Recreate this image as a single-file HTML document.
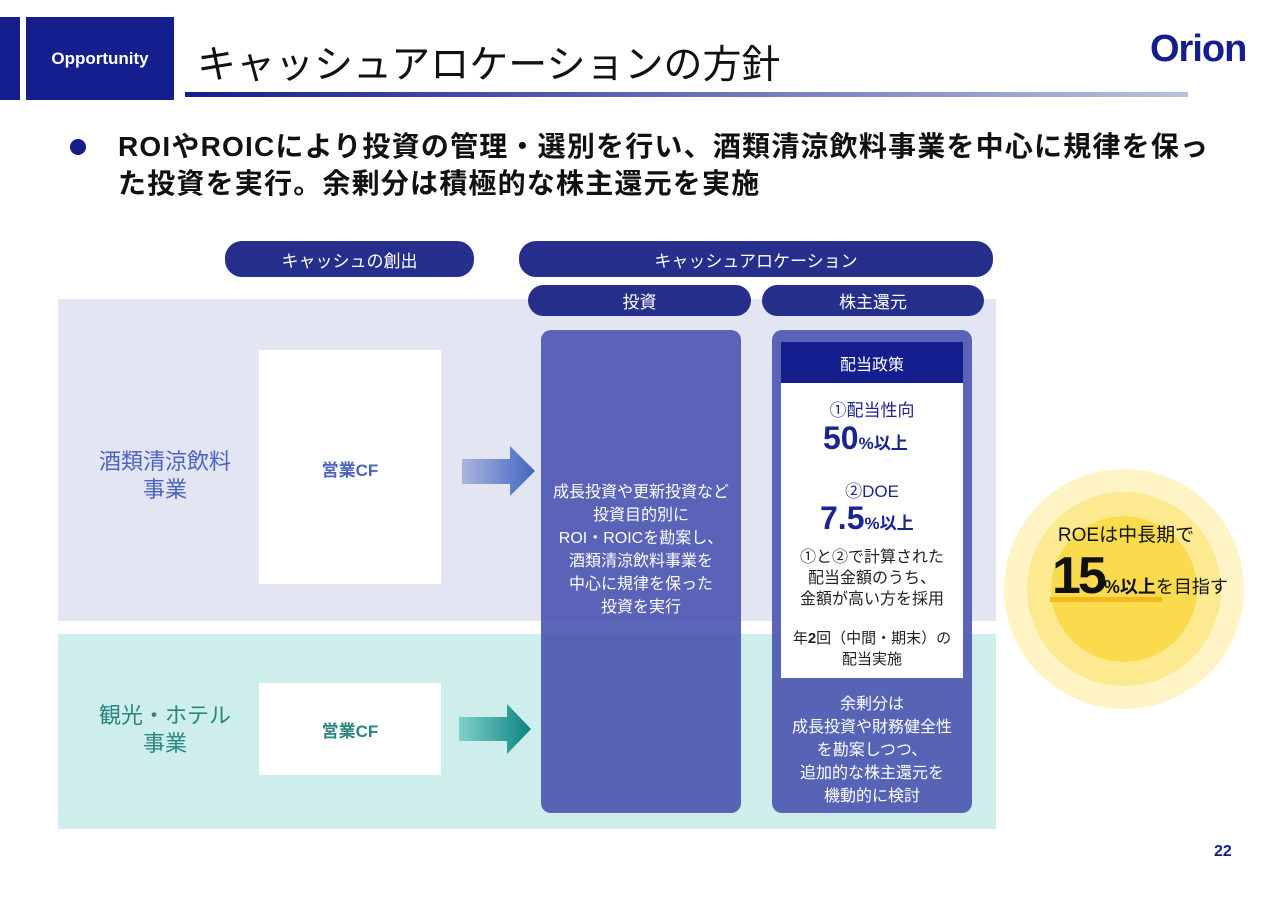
<!DOCTYPE html>
<html><head><meta charset="utf-8"><style>
*{margin:0;padding:0;box-sizing:border-box}
body{width:1280px;height:905px;background:#fff;position:relative;overflow:hidden;font-family:"Liberation Sans","Noto Sans CJK JP",sans-serif}
.a{position:absolute}
.c{display:flex;align-items:center;justify-content:center;text-align:center}
.pill{background:#262f8c;color:#fff;border-radius:17px;font-size:17px;z-index:5}
</style></head><body>
<div class="a" style="left:0;top:17px;width:20px;height:83px;background:#141e8c"></div>
<div class="a c" style="left:26px;top:17px;width:148px;height:83px;background:#141e8c;color:#fff;font-weight:bold;font-size:17px">Opportunity</div>
<div class="a" style="left:197px;top:34px;font-size:39px;color:#111;white-space:nowrap">キャッシュアロケーションの方針</div>
<div class="a" style="left:185px;top:92px;width:1003px;height:5px;background:linear-gradient(90deg,#141e8c,#b9c0df)"></div>
<div class="a" style="left:1150px;top:28px;font-size:38px;font-weight:bold;color:#141e8c;letter-spacing:-1px">Orion</div>
<div class="a" style="left:70px;top:139px;width:16px;height:16px;border-radius:50%;background:#141e8c"></div>
<div class="a" style="left:118px;top:128px;font-size:28px;font-weight:bold;line-height:37px;color:#111;white-space:nowrap;letter-spacing:1.2px">ROIやROICにより投資の管理・選別を行い、酒類清涼飲料事業を中心に規律を保っ<br>た投資を実行。余剰分は積極的な株主還元を実施</div>

<div class="a" style="left:58px;top:299px;width:938px;height:322px;background:#e3e5f2"></div>
<div class="a" style="left:58px;top:634px;width:938px;height:195px;background:#ceeeeb"></div>

<div class="a c pill" style="left:225px;top:241px;width:249px;height:36px">キャッシュの創出</div>
<div class="a c pill" style="left:519px;top:241px;width:474px;height:36px">キャッシュアロケーション</div>
<div class="a c pill" style="left:528px;top:285px;width:223px;height:31px">投資</div>
<div class="a c pill" style="left:762px;top:285px;width:222px;height:31px">株主還元</div>

<div class="a" style="left:70px;top:448px;width:190px;text-align:center;font-size:22px;line-height:28px;color:#4a62c0">酒類清涼飲料<br>事業</div>
<div class="a" style="left:70px;top:702px;width:190px;text-align:center;font-size:22px;line-height:28px;color:#2a8580">観光・ホテル<br>事業</div>

<div class="a c" style="left:259px;top:350px;width:182px;height:234px;background:#fff;align-items:flex-start;padding-top:106px;font-size:17px;font-weight:bold;color:#4a62c0">営業CF</div>
<div class="a c" style="left:259px;top:683px;width:182px;height:92px;background:#fff;font-size:17px;font-weight:bold;color:#2a8580">営業CF</div>

<svg class="a" style="left:0;top:0" width="1280" height="905">
<defs>
<linearGradient id="g1"><stop offset="0" stop-color="#aab4e0"/><stop offset="1" stop-color="#4266c0"/></linearGradient>
<linearGradient id="g2"><stop offset="0" stop-color="#7fd0c8"/><stop offset="1" stop-color="#0a8482"/></linearGradient>
</defs>
<polygon points="462,459 510,459 510,446 535,471 510,496 510,484 462,484" fill="url(#g1)"/>
<polygon points="459,717 507,717 507,704 531,729 507,754 507,741 459,741" fill="url(#g2)"/>
<circle cx="1124" cy="589" r="120" fill="#fff4c6"/>
<circle cx="1124" cy="589" r="97" fill="#fdea90"/>
<circle cx="1124" cy="589" r="73" fill="#fbdb4e"/>
<rect x="1050" y="597" width="112" height="5" fill="#f2b820"/>
<rect x="818" y="458" width="97" height="5" fill="#f2b820"/>
<rect x="820" y="536" width="97" height="5" fill="#f2b820"/>
</svg>

<div class="a" style="left:541px;top:330px;width:200px;height:483px;border-radius:10px;background:rgba(74,84,176,0.9);color:#fff;font-size:16px;line-height:23px;text-align:center;padding-top:151px">成長投資や更新投資など<br>投資目的別に<br>ROI・ROICを勘案し、<br>酒類清涼飲料事業を<br>中心に規律を保った<br>投資を実行</div>
<div class="a" style="left:772px;top:330px;width:200px;height:483px;border-radius:10px;background:rgba(74,84,176,0.9)"></div>
<div class="a" style="left:781px;top:342px;width:182px;height:336px;background:#fff"></div>
<div class="a c" style="left:781px;top:342px;width:182px;height:41px;background:#141e8c;color:#fff;font-size:16px">配当政策</div>
<div class="a" style="left:781px;top:396px;width:182px;text-align:center;font-size:17px;color:#1a2590">①配当性向</div>
<div class="a" style="left:823px;top:420px;font-size:32px;font-weight:bold;color:#1a2590;white-space:nowrap">50<span style="font-size:17px">%以上</span></div>
<div class="a" style="left:781px;top:477px;width:182px;text-align:center;font-size:17px;color:#1a2590">②DOE</div>
<div class="a" style="left:820px;top:500px;font-size:32px;font-weight:bold;color:#1a2590;white-space:nowrap">7.5<span style="font-size:17px">%以上</span></div>
<div class="a" style="left:781px;top:547px;width:182px;text-align:center;font-size:16px;line-height:21px;color:#222">①と②で計算された<br>配当金額のうち、<br>金額が高い方を採用</div>
<div class="a" style="left:781px;top:628px;width:182px;text-align:center;font-size:15px;line-height:21px;color:#222">年<b>2</b>回（中間・期末）の<br>配当実施</div>
<div class="a" style="left:772px;top:693px;width:200px;text-align:center;font-size:16px;line-height:23px;color:#fff">余剰分は<br>成長投資や財務健全性<br>を勘案しつつ、<br>追加的な株主還元を<br>機動的に検討</div>

<div class="a" style="left:1026px;top:520px;width:200px;text-align:center;font-size:19px;color:#111">ROEは中長期で</div>
<div class="a" style="left:1052px;top:546px;white-space:nowrap;color:#111"><span style="font-size:52px;font-weight:bold;letter-spacing:-3px">15</span><span style="font-size:18px;font-weight:bold">%以上</span><span style="font-size:18px">を目指す</span></div>

<div class="a" style="left:1214px;top:843px;font-size:16px;font-weight:bold;color:#141e8c">22</div>
</body></html>
